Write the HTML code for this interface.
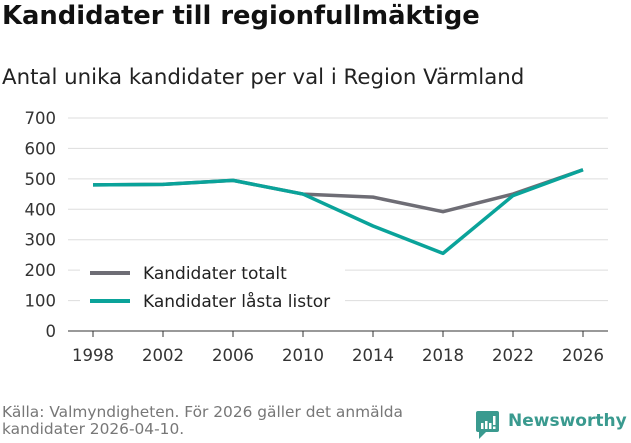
<!DOCTYPE html>
<html><head><meta charset="utf-8"><style>
body{margin:0;width:631px;height:439px;background:#fff;font-family:"DejaVu Sans","Liberation Sans",sans-serif;overflow:hidden;position:relative}
</style></head><body>
<div style="position:absolute;left:2px;top:1px;font-size:25.8px;font-weight:bold;color:#111">Kandidater till regionfullmäktige</div>
<div style="position:absolute;left:2px;top:65px;font-size:21.3px;color:#222">Antal unika kandidater per val i Region Värmland</div>
<svg id="c" width="631" height="439" style="position:absolute;left:0;top:0"></svg>
<div style="position:absolute;left:2px;top:404px;font-size:15.4px;line-height:17px;color:#777">Källa: Valmyndigheten. För 2026 gäller det anmälda<br>kandidater 2026-04-10.</div>
<div style="position:absolute;left:476px;top:411px;">
<svg width="24" height="28"><rect x="0" y="0" width="23" height="21" rx="2" fill="#3a9a8f"/><path d="M3 21 L3 28 L10 21Z" fill="#3a9a8f"/><rect x="5" y="12" width="2.5" height="6" fill="#fff"/><rect x="9" y="10" width="2.5" height="8" fill="#fff"/><rect x="13" y="12" width="2.5" height="6" fill="#fff"/><rect x="17" y="5" width="2.5" height="9" fill="#fff"/><rect x="17" y="15.5" width="2.5" height="2.5" fill="#fff"/></svg>
<span style="position:absolute;left:32px;top:0px;font-size:17px;font-weight:bold;color:#3a9a8f;">Newsworthy</span></div>
<script>
const years=[1998,2002,2006,2010,2014,2018,2022,2026];
const totalt=[480,482,495,450,440,392,450,530];
const lasta=[480,482,495,450,345,255,445,530];
const yTicks=[0,100,200,300,400,500,600,700];
const ns="http://www.w3.org/2000/svg",svg=document.getElementById('c');
const X=y=>93+(y-1998)*17.5, Y=v=>331-v*0.3043;
function el(t,a,p){const e=document.createElementNS(ns,t);for(const k in a)e.setAttribute(k,a[k]);(p||svg).appendChild(e);return e;}
yTicks.forEach(v=>{
 const g=el('line',{x1:68,x2:608,y1:Y(v),y2:Y(v),stroke:v==0?'#333':'#ddd','stroke-width':1});
 
 
 const t=el('text',{x:56,y:Y(v)+6,'text-anchor':'end','font-size':16.5,fill:'#333'});t.textContent=v;
 
 
});
years.forEach(yr=>{
 const tk=el('line',{x1:X(yr),x2:X(yr),y1:331,y2:337,stroke:'#333'});
 
 
 const t=el('text',{x:X(yr),y:361,'text-anchor':'middle','font-size':16.5,fill:'#333'});t.textContent=yr;
 
 
});
const bg=el('rect',{x:80,y:258,width:265,height:62,fill:'#fff'});


function line(vals,col,name){const p=el('polyline',{points:vals.map((v,i)=>X(years[i])+','+Y(v)).join(' '),fill:'none',stroke:col,'stroke-width':3.5,'stroke-linejoin':'round'});
 
 }
line(totalt,'#6e6d75','series-kandidater-totalt');
line(lasta,'#0aa39a','series-kandidater-lasta-listor');
[['Kandidater totalt','#6e6d75',273],['Kandidater låsta listor','#0aa39a',301]].forEach(([l,c,y])=>{
 const m=el('line',{x1:90,x2:130,y1:y,y2:y,stroke:c,'stroke-width':4});
 
 
 const t=el('text',{x:143,y:y+6,'font-size':17,fill:'#222'});t.textContent=l;
 
 
});
</script>
</body></html>
